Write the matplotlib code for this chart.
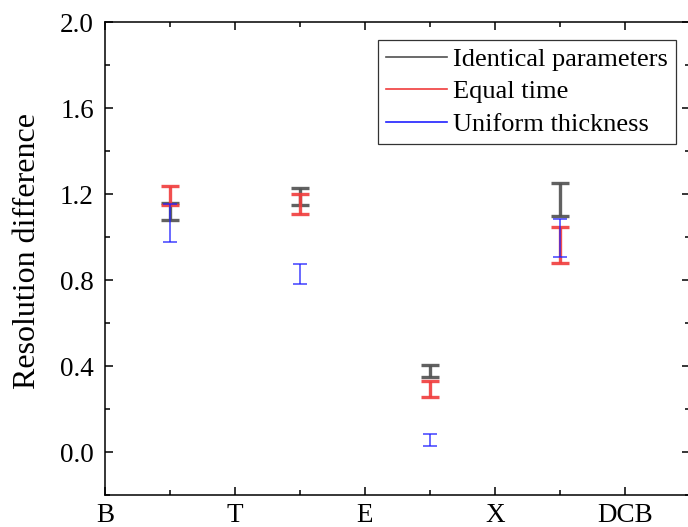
import matplotlib
matplotlib.use('Agg')
import matplotlib.pyplot as plt
from matplotlib.lines import Line2D

plt.rcParams['font.family'] = ['Liberation Serif', 'DejaVu Serif']

categories = ['B', 'T', 'E', 'X', 'DCB']
groupPos = [0.5, 1.5, 2.5, 3.5]

identMean = [1.118, 1.187, 0.378, 1.176]
identErr = [0.038, 0.039, 0.027, 0.076]
equalMean = [1.193, 1.153, 0.292, 0.963]
equalErr = [0.042, 0.045, 0.036, 0.083]
uniformMean = [1.067, 0.827, 0.055, 0.996]
uniformErr = [0.088, 0.047, 0.027, 0.090]

labels = ['Identical parameters', 'Equal time', 'Uniform thickness']
colors = ['#505050', '#f03c3c', '#2020ff']

fig = plt.figure(figsize=(6.88, 5.27), dpi=100)
ax = fig.add_axes([105/688, 32/527, 585/688, 473/527])

ax.errorbar(groupPos, identMean, yerr=identErr, fmt='none', ecolor=colors[0],
            elinewidth=2.4, capsize=6.5, capthick=2.4, alpha=0.9)
ax.errorbar(groupPos, equalMean, yerr=equalErr, fmt='none', ecolor=colors[1],
            elinewidth=2.4, capsize=6.5, capthick=2.4, alpha=0.9)
ax.errorbar(groupPos, uniformMean, yerr=uniformErr, fmt='none', ecolor=colors[2],
            elinewidth=1.1, capsize=5, capthick=1.1, alpha=0.85)

ax.set_xlim(0, 4.5)
ax.set_ylim(-0.2, 2.0)
ax.set_xticks(range(len(categories)))
ax.set_xticklabels(categories)
ax.set_xticks(groupPos + [4.5], minor=True)
ax.set_yticks([0.0, 0.4, 0.8, 1.2, 1.6, 2.0])
ax.set_yticklabels(['0.0', '0.4', '0.8', '1.2', '1.6', '2.0'])
ax.set_yticks([-0.2, 0.2, 0.6, 1.0, 1.4, 1.8], minor=True)
ax.tick_params(which='both', direction='in', top=True, right=True,
               labelsize=19.5, width=1.1, color='black')
ax.tick_params(which='major', length=6, pad=8)
ax.tick_params(which='minor', length=3.5)
ax.tick_params(axis='x', which='major', pad=6)
for s in ax.spines.values():
    s.set_linewidth(1.1)

ax.set_ylabel('Resolution difference', fontsize=23)
ax.yaxis.set_label_coords(-0.107, 0.516)

handles = [Line2D([], [], color=c, lw=1.2) for c in colors]
leg = ax.legend(handles, labels, loc='upper right', bbox_to_anchor=(0.976, 0.962),
                borderaxespad=0, fontsize=19, frameon=True, fancybox=False,
                handlelength=2.3, handletextpad=0.25, labelspacing=0.38,
                borderpad=0.3, handleheight=0.6)
leg.get_frame().set_edgecolor('black')
leg.get_frame().set_linewidth(0.9)

fig.savefig('out.png', dpi=100)
